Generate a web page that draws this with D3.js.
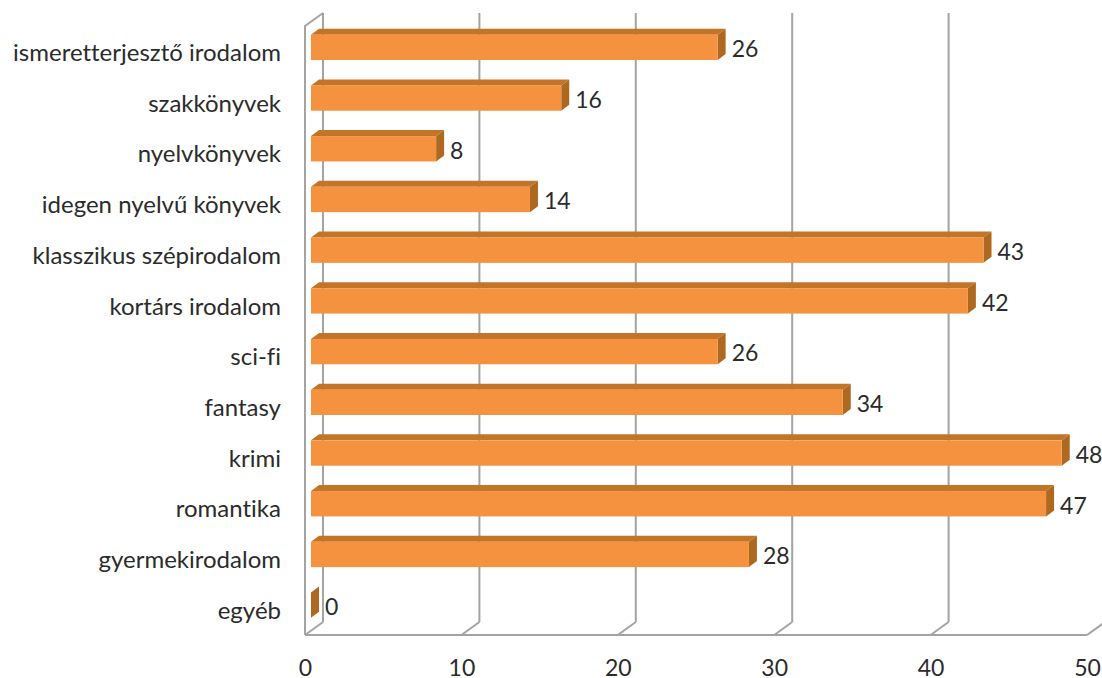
<!DOCTYPE html>
<html>
<head>
<meta charset="utf-8">
<script src="https://cdn.jsdelivr.net/npm/d3@7"></script>
<style>
    html, body { margin: 0; padding: 0; background: #fff; }
    svg { display: block; }
    text { font-family: Lato, "Open Sans", sans-serif; fill: #2b2b2b; font-variant-ligatures: none; }
</style>
</head>
<body>
<div id="grafico"></div>
<script>
const categories = ["ismeretterjesztő irodalom", "szakkönyvek", "nyelvkönyvek", "idegen nyelvű könyvek",
    "klasszikus szépirodalom", "kortárs irodalom", "sci-fi", "fantasy", "krimi", "romantika",
    "gyermekirodalom", "egyéb"];
const values = [26, 16, 8, 14, 43, 42, 26, 34, 48, 47, 28, 0];
const xTicks = [0, 10, 20, 30, 40, 50];

const width = 1102;
const height = 678;
const floorY = 635;
const topY = 26;
const wallX = 18, wallY = 13;   // depth of the back wall
const barX = 8, barY = 6;       // depth of a bar
const barInset = 6;

const svg = d3.select("#grafico")
    .append("svg")
    .attr("width", width)
    .attr("height", height);

const xScale = d3.scaleLinear()
    .domain([0, 50])
    .range([305, 1087]);

const yScale = d3.scaleBand()
    .domain(categories)
    .range([22, 630.5])
    .paddingInner(0.5)
    .paddingOuter(0.25);

// walls and grid
const grid = svg.append("g")
    .attr("fill", "none")
    .attr("stroke", "#a3a3a3")
    .attr("stroke-width", 2);

grid.selectAll(".back")
    .data(xTicks)
    .enter()
    .append("line")
    .attr("class", "back")
    .attr("x1", d => xScale(d) + wallX)
    .attr("x2", d => xScale(d) + wallX)
    .attr("y1", topY - wallY)
    .attr("y2", floorY - wallY);

grid.selectAll(".floor")
    .data(xTicks)
    .enter()
    .append("line")
    .attr("class", "floor")
    .attr("x1", d => xScale(d))
    .attr("x2", d => xScale(d) + wallX)
    .attr("y1", floorY)
    .attr("y2", floorY - wallY);

grid.append("path")
    .attr("d", `M${xScale(0)},${floorY}V${topY}L${xScale(0) + wallX},${topY - wallY}`);

grid.append("line")
    .attr("x1", xScale(0))
    .attr("x2", xScale(50))
    .attr("y1", floorY)
    .attr("y2", floorY);

// bars
const bars = svg.selectAll(".bar")
    .data(values.map((v, i) => ({ name: categories[i], value: v })))
    .enter()
    .append("g")
    .attr("class", "bar");

const bw = yScale.bandwidth();

bars.append("path")
    .attr("fill", "#c27527")
    .attr("d", d => {
        const x0 = xScale(0) + barInset, x1 = xScale(d.value) + barInset, y = yScale(d.name);
        return `M${x0},${y}L${x0 + barX},${y - barY}H${x1 + barX}L${x1},${y}Z`;
    });

bars.append("path")
    .attr("fill", "#ae681f")
    .attr("d", d => {
        const x1 = xScale(d.value) + barInset, y = yScale(d.name);
        return `M${x1},${y}L${x1 + barX},${y - barY}V${y + bw - barY}L${x1},${y + bw}Z`;
    });

bars.append("rect")
    .attr("fill", "#f59240")
    .attr("x", xScale(0) + barInset)
    .attr("y", d => yScale(d.name))
    .attr("width", d => xScale(d.value) - xScale(0))
    .attr("height", bw);

bars.append("text")
    .attr("x", d => xScale(d.value) + barInset + barX + 6)
    .attr("y", d => yScale(d.name) + bw / 2 + 4)
    .attr("dominant-baseline", "middle")
    .attr("font-size", 23)
    .text(d => d.value);

// axes
const axisBottom = svg.append("g")
    .attr("transform", "translate(0,668)")
    .call(d3.axisBottom(xScale).tickValues(xTicks).tickSize(0).tickPadding(0));
axisBottom.select(".domain").remove();
axisBottom.selectAll("text")
    .attr("font-size", 23)
    .attr("dy", "0.35em")
    .attr("y", 0)
    .style("fill", "#2b2b2b")
    .style("font-family", "Lato, 'Open Sans', sans-serif");

const axisLeft = svg.append("g")
    .attr("transform", "translate(281,6)")
    .call(d3.axisLeft(yScale).tickSize(0).tickPadding(0));
axisLeft.select(".domain").remove();
axisLeft.selectAll("text")
    .attr("font-size", 24)
    .style("fill", "#2b2b2b")
    .style("font-family", "Lato, 'Open Sans', sans-serif");
</script>
</body>
</html>
